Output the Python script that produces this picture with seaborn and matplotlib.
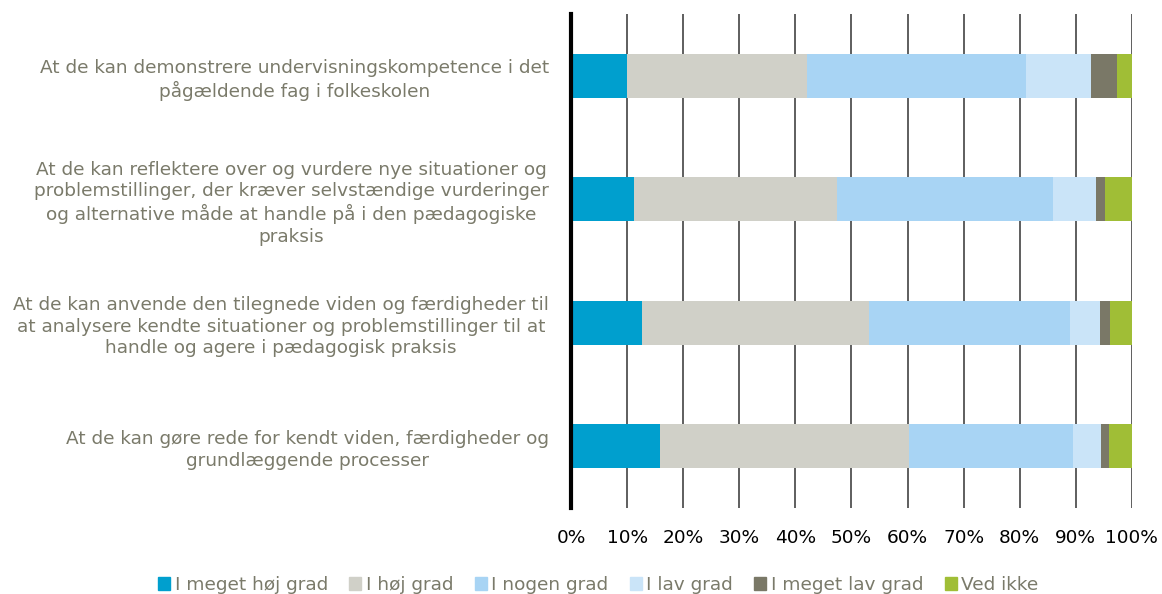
import numpy as np
import pandas as pd
import matplotlib
matplotlib.use("Agg")
import matplotlib.pyplot as plt
import matplotlib.patches as mpatches
import seaborn as sns

# data (percent of respondents)
statements = [
    "At de kan demonstrere undervisningskompetence i det\npågældende fag i folkeskolen",
    "At de kan reflektere over og vurdere nye situationer og\nproblemstillinger, der kræver selvstændige vurderinger\nog alternative måde at handle på i den pædagogiske\npraksis",
    "At de kan anvende den tilegnede viden og færdigheder til\nat analysere kendte situationer og problemstillinger til at\nhandle og agere i pædagogisk praksis",
    "At de kan gøre rede for kendt viden, færdigheder og\ngrundlæggende processer",
]
categories = ["I meget høj grad", "I høj grad", "I nogen grad", "I lav grad",
              "I meget lav grad", "Ved ikke"]
meget_hoj = [10.0, 11.3, 12.6, 15.8]
hoj = [32.1, 36.1, 40.5, 44.4]
nogen = [39.1, 38.6, 35.9, 29.4]
lav = [11.6, 7.7, 5.4, 4.9]
meget_lav = [4.6, 1.6, 1.8, 1.5]
ved_ikke = [2.6, 4.7, 3.8, 4.0]
colors = ["#009fce", "#d0d0c8", "#a8d4f4", "#cae4f8", "#7a7867", "#a0be36"]

text_color = "#7a7a6a"

sns.set_theme(style="white")
plt.rcParams['font.family'] = ['DejaVu Sans']

df = pd.DataFrame({"statement": statements})
series = [meget_hoj, hoj, nogen, lav, meget_lav, ved_ikke]
cum = np.cumsum(np.array(series), axis=0)

fig, ax = plt.subplots(figsize=(11.62, 5.94), dpi=100)
fig.subplots_adjust(left=0.4915, right=0.974, top=0.976, bottom=0.145)

# stacked bars: draw cumulative totals from the back to the front
for i in range(len(categories) - 1, -1, -1):
    df["value"] = cum[i]
    sns.barplot(data=df, x="value", y="statement", orient="h", color=colors[i],
                saturation=1, width=0.355, ax=ax, linewidth=0)

ax.set_xlim(0, 100)
ax.set_ylim(3.5, -0.5)
ax.set_xticks(np.arange(0, 101, 10))
ax.set_xticklabels([f"{v}%" for v in range(0, 101, 10)], fontsize=13.3, color="black")
ax.set_yticks(range(len(statements)))
ax.set_yticklabels(statements, fontsize=13.3, color=text_color,
                   multialignment="center", linespacing=1.25)
ax.tick_params(axis="x", length=0, pad=15)
ax.tick_params(axis="y", length=0, pad=16)
ax.set_xlabel("")
ax.set_ylabel("")

ax.set_axisbelow(True)
ax.xaxis.grid(True, color="#333333", linewidth=1.1)
for s in ["top", "right", "bottom"]:
    ax.spines[s].set_visible(False)
ax.spines["left"].set_color("black")
ax.spines["left"].set_linewidth(3)
ax.spines["left"].set_zorder(5)

handles = [mpatches.Patch(color=c, label=l) for c, l in zip(colors, categories)]
leg = fig.legend(handles=handles, loc="lower center", bbox_to_anchor=(0.515, -0.028),
                 ncol=6, frameon=False, fontsize=13.3, handlelength=0.65,
                 handleheight=0.65, handletextpad=0.25, columnspacing=1.15)
for t in leg.get_texts():
    t.set_color(text_color)

fig.savefig("out.png", dpi=100)
